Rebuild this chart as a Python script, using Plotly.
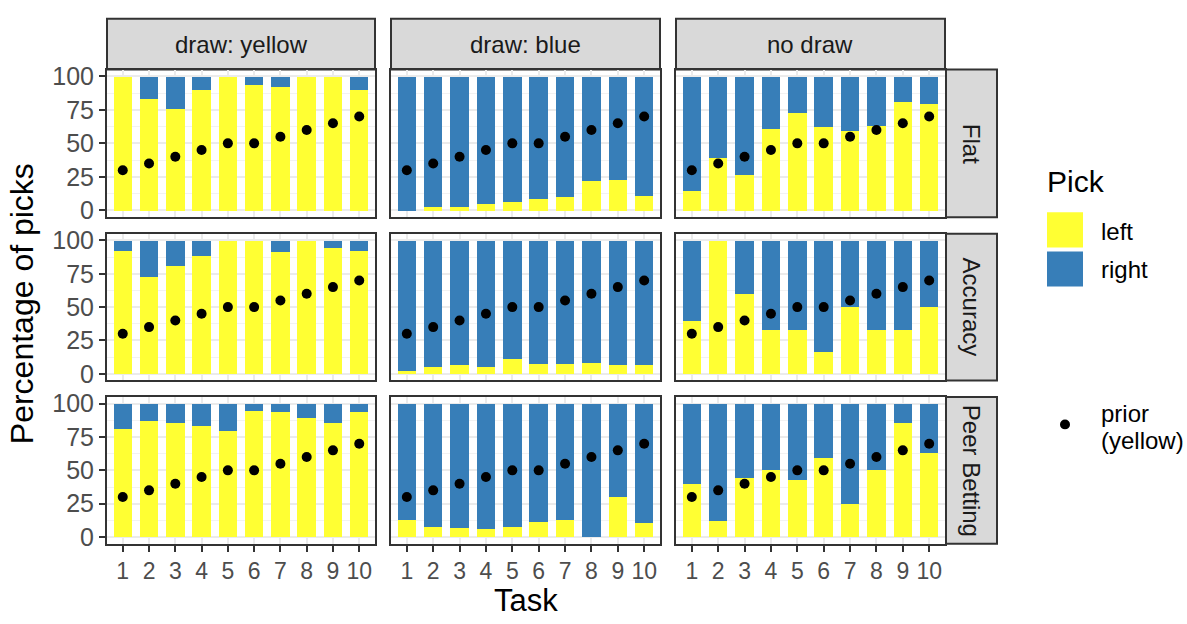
import plotly.graph_objects as go

W, H = 1187, 624

tasks = [1, 2, 3, 4, 5, 6, 7, 8, 9, 10]
prior_yellow = [30, 35, 40, 45, 50, 50, 55, 60, 65, 70]

draw_labels = ["draw: yellow", "draw: blue", "no draw"]
scoring_labels = ["Flat", "Accuracy", "Peer Betting"]

# percentage of "left" (yellow) picks per panel
left_yellow_flat = [100, 83.3, 76.0, 89.8, 100, 93.5, 92.7, 100, 100, 89.8]
left_blue_flat = [0, 2.7, 2.7, 4.8, 7.0, 9.2, 10.7, 22.3, 23.0, 11.4]
left_nodraw_flat = [15.0, 39.7, 26.6, 60.8, 73.1, 62.2, 59.3, 63.0, 81.1, 79.7]

left_yellow_acc = [92.0, 73.1, 81.1, 88.4, 100, 100, 91.3, 100, 94.2, 92.0]
left_blue_acc = [1.9, 5.6, 7.0, 5.6, 11.4, 7.7, 7.7, 8.5, 7.0, 7.0]
left_nodraw_acc = [40.0, 100, 60.0, 33.3, 33.3, 16.7, 50.0, 33.3, 33.3, 50.0]

left_yellow_pb = [81.1, 86.9, 85.5, 83.3, 79.7, 94.2, 93.5, 89.1, 85.5, 93.5]
left_blue_pb = [12.8, 7.7, 7.0, 6.3, 7.7, 11.4, 12.8, 0, 30.3, 10.7]
left_nodraw_pb = [39.7, 12.1, 44.1, 50.0, 42.6, 59.3, 24.5, 50.0, 85.5, 63.0]

panels = [
    [left_yellow_flat, left_blue_flat, left_nodraw_flat],
    [left_yellow_acc, left_blue_acc, left_nodraw_acc],
    [left_yellow_pb, left_blue_pb, left_nodraw_pb],
]

y_ticks = [0, 25, 50, 75, 100]

YELLOW = "#FFFF33"
BLUE = "#377EB8"
FONT = "Liberation Sans, Arial, Helvetica, sans-serif"
BORDER = "#333333"


def xp(px):
    return px / W


def yp(py):
    return 1 - py / H


col_px = [(107, 375), (391, 660), (676, 945)]
row_px = [(64, 215), (232, 382), (399, 549)]

fig = go.Figure()
layout = {}

for r in range(3):
    for c in range(3):
        k = r * 3 + c + 1
        xa = "x" if k == 1 else f"x{k}"
        ya = "y" if k == 1 else f"y{k}"
        left = panels[r][c]
        right = [round(100 - v, 1) for v in left]
        fig.add_trace(go.Bar(x=tasks, y=left, width=0.7, marker=dict(color=YELLOW, line=dict(width=0)),
                             xaxis=xa, yaxis=ya, name="left", showlegend=False, hoverinfo="x+y"))
        fig.add_trace(go.Bar(x=tasks, y=right, width=0.7, marker=dict(color=BLUE, line=dict(width=0)),
                             xaxis=xa, yaxis=ya, name="right", showlegend=False, hoverinfo="x+y"))
        fig.add_trace(go.Scatter(x=tasks, y=prior_yellow, mode="markers",
                                 marker=dict(color="black", size=10),
                                 xaxis=xa, yaxis=ya, name="prior (yellow)", showlegend=False))
        xkey = "xaxis" if k == 1 else f"xaxis{k}"
        ykey = "yaxis" if k == 1 else f"yaxis{k}"
        bottom = (r == 2)
        first = (c == 0)
        layout[xkey] = dict(
            domain=[xp(col_px[c][0]), xp(col_px[c][1])],
            anchor=ya, range=[0.4, 10.6], tickvals=tasks, ticktext=[str(t) for t in tasks],
            showticklabels=bottom, ticks="outside" if bottom else "", ticklen=6, tickwidth=2,
            tickcolor=BORDER, tickfont=dict(family=FONT, size=23, color="#4D4D4D"),
            showgrid=True, gridcolor="#EBEBEB", gridwidth=1.5, zeroline=False,
            showline=True, linecolor=BORDER, linewidth=2, mirror=True, fixedrange=True,
        )
        layout[ykey] = dict(
            domain=[yp(row_px[r][1]), yp(row_px[r][0])],
            anchor=xa, range=[-5, 105], tickvals=y_ticks, ticktext=[str(t) for t in y_ticks],
            showticklabels=first, ticks="outside" if first else "", ticklen=6, tickwidth=2,
            tickcolor=BORDER, tickfont=dict(family=FONT, size=25, color="#4D4D4D"),
            showgrid=True, gridcolor="#EBEBEB", gridwidth=1.5, zeroline=False,
            minor=dict(tick0=0, dtick=12.5, showgrid=True, gridcolor="#F2F2F2", gridwidth=1, ticks=""),
            showline=True, linecolor=BORDER, linewidth=2, mirror=True, fixedrange=True,
        )

shapes = []
annotations = []

# column strips
for c, lab in enumerate(draw_labels):
    x0, x1 = col_px[c]
    shapes.append(dict(type="rect", xref="paper", yref="paper", x0=xp(x0), x1=xp(x1), y0=yp(64), y1=yp(12),
                       fillcolor="#D9D9D9", line=dict(color=BORDER, width=2), layer="below"))
    annotations.append(dict(text=lab, xref="paper", yref="paper", x=xp((x0 + x1) / 2), y=yp(38),
                            showarrow=False, xanchor="center", yanchor="middle",
                            font=dict(family=FONT, size=24, color="#1A1A1A")))

# row strips
for r, lab in enumerate(scoring_labels):
    y0, y1 = row_px[r]
    shapes.append(dict(type="rect", xref="paper", yref="paper", x0=xp(946), x1=xp(997), y0=yp(y1), y1=yp(y0),
                       fillcolor="#D9D9D9", line=dict(color=BORDER, width=2), layer="below"))
    annotations.append(dict(text=lab, xref="paper", yref="paper", x=xp(971.5), y=yp((y0 + y1) / 2),
                            showarrow=False, xanchor="center", yanchor="middle", textangle=90,
                            font=dict(family=FONT, size=24, color="#1A1A1A")))

# axis titles
annotations.append(dict(text="Percentage of picks", xref="paper", yref="paper", x=xp(22), y=yp(304),
                        showarrow=False, textangle=-90, xanchor="center", yanchor="middle",
                        font=dict(family=FONT, size=32, color="black")))
annotations.append(dict(text="Task", xref="paper", yref="paper", x=xp(526), y=yp(607),
                        showarrow=False, xanchor="center", yanchor="middle",
                        font=dict(family=FONT, size=31, color="black")))

# legend
annotations.append(dict(text="Pick", xref="paper", yref="paper", x=xp(1045), y=yp(178),
                        showarrow=False, xanchor="left", yanchor="middle",
                        font=dict(family=FONT, size=30, color="black")))
shapes.append(dict(type="rect", xref="paper", yref="paper", x0=xp(1047), x1=xp(1083), y0=yp(246), y1=yp(210),
                   fillcolor=YELLOW, line=dict(width=0)))
shapes.append(dict(type="rect", xref="paper", yref="paper", x0=xp(1047), x1=xp(1083), y0=yp(286), y1=yp(250),
                   fillcolor=BLUE, line=dict(width=0)))
annotations.append(dict(text="left", xref="paper", yref="paper", x=xp(1099), y=yp(230),
                        showarrow=False, xanchor="left", yanchor="middle",
                        font=dict(family=FONT, size=24, color="black")))
annotations.append(dict(text="right", xref="paper", yref="paper", x=xp(1099), y=yp(269),
                        showarrow=False, xanchor="left", yanchor="middle",
                        font=dict(family=FONT, size=24, color="black")))
shapes.append(dict(type="circle", xref="paper", yref="paper", x0=xp(1060), x1=xp(1070), y0=yp(432), y1=yp(422),
                   fillcolor="black", line=dict(width=0)))
annotations.append(dict(text="prior", xref="paper", yref="paper", x=xp(1099), y=yp(416),
                        showarrow=False, xanchor="left", yanchor="middle",
                        font=dict(family=FONT, size=24, color="black")))
annotations.append(dict(text="(yellow)", xref="paper", yref="paper", x=xp(1099), y=yp(443),
                        showarrow=False, xanchor="left", yanchor="middle",
                        font=dict(family=FONT, size=24, color="black")))

fig.update_layout(
    width=W, height=H, margin=dict(l=0, r=0, t=0, b=0),
    barmode="stack", bargap=0, paper_bgcolor="white", plot_bgcolor="white",
    showlegend=False, shapes=shapes, annotations=annotations, **layout,
)

fig.write_html("out.html", config={"displayModeBar": False},
               post_script="document.body.style.margin='0';document.body.style.overflow='hidden';")
